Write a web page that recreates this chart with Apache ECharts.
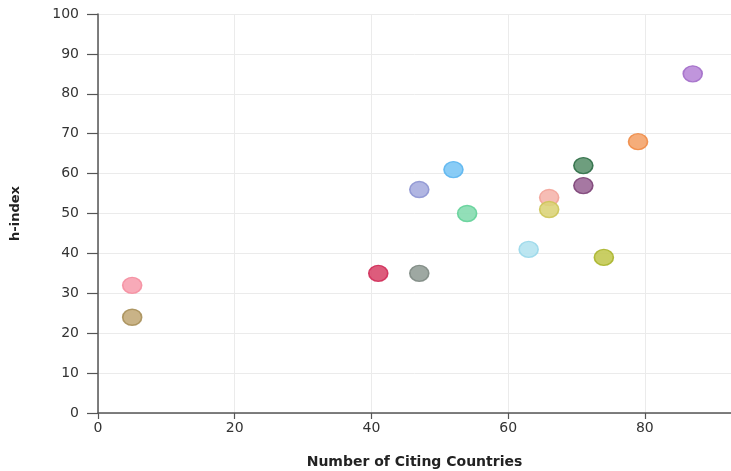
<!DOCTYPE html>
<html>
<head>
<meta charset="utf-8">
<script src="https://cdn.jsdelivr.net/npm/echarts@6/dist/echarts.min.js"></script>
<style>
html,body{margin:0;padding:0;background:#fff;}
#chart{width:731px;height:471px;}
</style>
</head>
<body>
<div id="chart"></div>
<script>
// Data
const citingCountries = [5, 5, 41, 47, 47, 52, 54, 63, 66, 66, 71, 71, 74, 79, 87];
const hIndex          = [32, 24, 35, 35, 56, 61, 50, 41, 54, 51, 62, 57, 39, 68, 85];
const xTicks = [0, 20, 40, 60, 80];
const yTicks = [0, 10, 20, 30, 40, 50, 60, 70, 80, 90, 100];

// Palette (style, one per point)
const fillColors = ['#f7a1b0','#c3ab7a','#d94a6e','#949e98','#a9aedf','#7cc6f5','#86dcb0',
                    '#b5e3f0','#f5b6ad','#dcd47a','#5e9470','#9c6998','#c3c953','#f4a46b','#b98ad8'];
const edgeColors = ['#f58ea0','#a8905a','#d02c59','#7e8a83','#8e96d3','#5db6ef','#63d199',
                    '#9ad8ea','#f3a398','#cdc559','#2f6f47','#7e4478','#aab52c','#f08b46','#a36ec9'];

const chart = echarts.init(document.getElementById('chart'));
const pts = citingCountries.map((x, i) => ({
  value: [x, hIndex[i]],
  itemStyle: { color: fillColors[i], borderColor: edgeColors[i], borderWidth: 1.5, opacity: 0.9 }
}));

chart.setOption({
  animation: false,
  textStyle: { fontFamily: 'DejaVu Sans' },
  grid: { left: 98, right: 0, top: 14, bottom: 58, containLabel: false, outerBoundsMode: 'none' },
  xAxis: {
    type: 'value', min: 0, max: 92.6, interval: 20,
    name: 'Number of Citing Countries', nameLocation: 'middle', nameGap: 42,
    nameTextStyle: { fontFamily: 'DejaVu Sans', fontWeight: 'bold', fontSize: 14, color: '#222' },
    axisLine: { show: true, lineStyle: { color: '#555', width: 1.5 } },
    axisTick: { show: true, length: 6, lineStyle: { color: '#555', width: 1.2 },
      customValues: xTicks },
    axisLabel: { fontFamily: 'DejaVu Sans', fontSize: 14, color: '#333', margin: 8,
      customValues: xTicks, formatter: v => String(v) },
    splitLine: { show: true, lineStyle: { color: '#ebebeb', width: 1 } }
  },
  yAxis: {
    type: 'value', min: 0, max: 100, interval: 10,
    name: 'h-index', nameLocation: 'middle', nameGap: 76, nameRotate: 90,
    nameTextStyle: { fontFamily: 'DejaVu Sans', fontWeight: 'bold', fontSize: 13, color: '#222' },
    axisLine: { show: true, lineStyle: { color: '#555', width: 1.5 } },
    axisTick: { show: true, length: 11, lineStyle: { color: '#555', width: 1.2 },
      customValues: yTicks },
    axisLabel: { fontFamily: 'DejaVu Sans', fontSize: 14, color: '#333', margin: 19,
      customValues: yTicks, formatter: v => String(v) },
    splitLine: { show: true, lineStyle: { color: '#ebebeb', width: 1 } }
  },
  series: [{
    type: 'scatter',
    symbol: 'circle',
    symbolSize: [19, 16],
    data: pts
  }]
});
</script>
</body>
</html>
